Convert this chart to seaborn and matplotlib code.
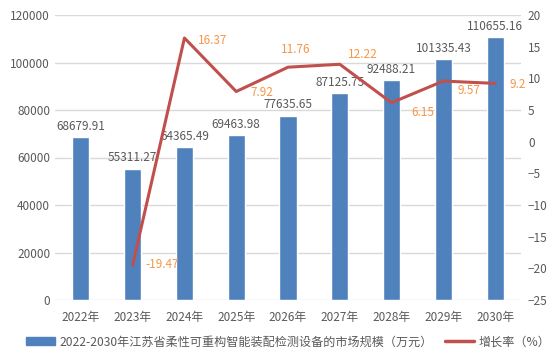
import matplotlib
matplotlib.use("Agg")
import matplotlib.pyplot as plt
import seaborn as sns
import pandas as pd
import numpy as np
from matplotlib.patches import Patch
from matplotlib.lines import Line2D

years = ["2022年", "2023年", "2024年", "2025年", "2026年", "2027年", "2028年", "2029年", "2030年"]
market = [68679.91, 55311.27, 64365.49, 69463.98, 77635.65, 87125.75, 92488.21, 101335.43, 110655.16]
growth = [np.nan, -19.47, 16.37, 7.92, 11.76, 12.22, 6.15, 9.57, 9.2]
growth_labels = ["", "-19.47", "16.37", "7.92", "11.76", "12.22", "6.15", "9.57", "9.2"]

bar_name = "2022-2030年江苏省柔性可重构智能装配检测设备的市场规模（万元）"
line_name = "增长率（%）"

sns.set_style("white")
plt.rcParams["font.family"] = ["Noto Sans CJK SC", "DejaVu Sans"]
plt.rcParams["font.size"] = 8.5

grey = "#595959"
bar_color = "#4F81BD"
line_color = "#C0504D"
lab_color = "#F79646"

df = pd.DataFrame({"year": years, "market": market, "growth": growth})
df["pos"] = np.arange(len(df))

fig = plt.figure(figsize=(5.55, 3.63), dpi=100)
ax = fig.add_axes([55 / 555, 1 - 300 / 363, 466 / 555, 285 / 363])

sns.barplot(data=df, x="year", y="market", color=bar_color, width=0.33,
            saturation=1, ax=ax)
ax.set_ylim(0, 120000)
ax.set_yticks(range(0, 120001, 20000))
ax.yaxis.grid(True, color="#D9D9D9", linewidth=1)
ax.set_axisbelow(True)
for s in ax.spines.values():
    s.set_visible(False)
ax.set_xlabel("")
ax.set_ylabel("")
ax.tick_params(axis="both", colors=grey, labelsize=8.5, length=0)
ax.tick_params(axis="x", pad=8)
ax.set_xlim(-0.5, len(years) - 0.5)
ax.bar_label(ax.containers[0], labels=[f"{v:.2f}" for v in market],
             padding=3, color=grey, fontsize=8.5)

ax2 = ax.twinx()
sns.lineplot(data=df.dropna(), x="pos", y="growth", color=line_color,
             linewidth=2.2, ax=ax2)
ax2.set_ylim(-25, 20)
ax2.set_yticks(range(-25, 21, 5))
ax2.set_xlim(-0.5, len(years) - 0.5)
for s in ax2.spines.values():
    s.set_visible(False)
ax2.set_xlabel("")
ax2.set_ylabel("")
ax2.tick_params(axis="y", colors=grey, labelsize=8.5, length=0, pad=5)

offsets = [(0, 0), (9, 0), (10, -2), (10, -1), (-5, 13), (6, 7), (14, -7), (10, -7), (10, -1)]
for i, (lab, g) in enumerate(zip(growth_labels, growth)):
    if lab:
        ax2.annotate(lab, (i, g), xytext=offsets[i], textcoords="offset points",
                     color=lab_color, fontsize=8.5, ha="left", va="center")

handles = [Patch(color=bar_color), Line2D([0], [0], color=line_color, linewidth=2.5)]
fig.legend(handles, [bar_name, line_name], loc="center", ncol=2,
           bbox_to_anchor=(288 / 555, 1 - 342 / 363), frameon=False, fontsize=8.7,
           labelcolor=grey, handlelength=2.4, handleheight=0.6,
           columnspacing=1.0, handletextpad=0.4)

fig.savefig("out.png", dpi=100)
